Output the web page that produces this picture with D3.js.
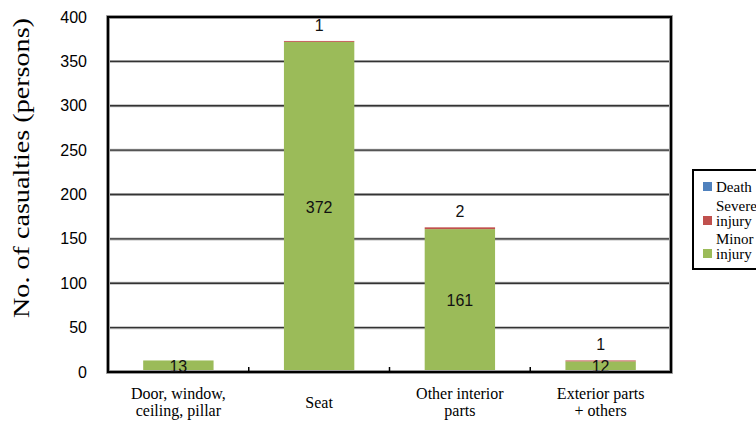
<!DOCTYPE html>
<html>
<head>
<meta charset="utf-8">
<script src="https://cdn.jsdelivr.net/npm/d3@7"></script>
<style>
  body { margin: 0; background: #fff; }
  svg { display: block; }
</style>
</head>
<body>
<svg id="chart" width="756" height="423"></svg>
<script>
// casualties by contact part, stacked by injury level
const categories = [["Door, window,", "ceiling, pillar"], ["Seat"], ["Other interior", "parts"], ["Exterior parts", "+ others"]];
const death = [0, 0, 0, 0];
const severe = [0, 1, 2, 1];
const minor = [13, 372, 161, 12];
const yTicks = [0, 50, 100, 150, 200, 250, 300, 350, 400];
const seriesNames = [["Death"], ["Severe", "injury"], ["Minor", "injury"]];
const colors = ["#4F81BD", "#C0504D", "#9BBB59"];

const SERIF = '"Liberation Serif"';
const SANS = '"Liberation Sans"';

const svg = d3.select("#chart");
const m = { left: 108, top: 17, right: 671, bottom: 372 };

const x = d3.scaleBand()
  .domain(d3.range(categories.length))
  .range([m.left, m.right])
  .paddingInner(0.5).paddingOuter(0.25);

const y = d3.scaleLinear().domain([0, 400]).range([m.bottom, m.top]);

// grid lines
const gridVals = yTicks.filter(d => d > 0 && d < 400);
svg.append("g").selectAll("line")
  .data(gridVals)
  .join("line")
  .attr("x1", m.left).attr("x2", m.right)
  .attr("y1", d => y(d)).attr("y2", d => y(d))
  .attr("stroke", "#bbb").attr("stroke-width", 3);
svg.append("g").selectAll("line")
  .data(gridVals)
  .join("line")
  .attr("x1", m.left).attr("x2", m.right)
  .attr("y1", d => y(d)).attr("y2", d => y(d))
  .attr("stroke", "#333").attr("stroke-width", 1.3);

// stacked bars: minor at bottom, severe, death on top
const rows = categories.map((c, i) => ({ i, minor: minor[i], severe: severe[i], death: death[i] }));
const stack = d3.stack().keys(["minor", "severe", "death"])(rows);
const stackColors = [colors[2], colors[1], colors[0]];

svg.append("g").selectAll("g")
  .data(stack)
  .join("g")
  .attr("fill", (d, k) => stackColors[k])
  .selectAll("rect")
  .data(d => d)
  .join("rect")
  .attr("x", d => x(d.data.i))
  .attr("width", x.bandwidth())
  .attr("y", d => y(d[1]))
  .attr("height", d => y(d[0]) - y(d[1]));

// frame
svg.append("rect")
  .attr("x", m.left).attr("y", m.top)
  .attr("width", m.right - m.left).attr("height", m.bottom - m.top)
  .attr("fill", "none").attr("stroke", "#aaa").attr("stroke-width", 4);
svg.append("rect")
  .attr("x", m.left).attr("y", m.top)
  .attr("width", m.right - m.left).attr("height", m.bottom - m.top)
  .attr("fill", "none").attr("stroke", "#000").attr("stroke-width", 2.2);

// category boundary ticks
svg.append("g").selectAll("line")
  .data(d3.range(1, categories.length))
  .join("line")
  .attr("x1", i => m.left + i * (m.right - m.left) / categories.length)
  .attr("x2", i => m.left + i * (m.right - m.left) / categories.length)
  .attr("y1", m.bottom).attr("y2", m.bottom - 5)
  .attr("stroke", "#000").attr("stroke-width", 1.5);

// y tick labels
svg.append("g").selectAll("text")
  .data(yTicks)
  .join("text")
  .attr("x", 87).attr("y", d => y(d))
  .attr("dy", "0.35em")
  .attr("text-anchor", "end")
  .style("font-family", SANS)
  .style("font-size", "16px")
  .attr("fill", "#000")
  .text(d => d);

// y axis title
svg.append("text")
  .attr("transform", "translate(29,168) rotate(-90)")
  .attr("text-anchor", "middle")
  .attr("textLength", 300)
  .attr("lengthAdjust", "spacingAndGlyphs")
  .style("font-family", SERIF)
  .style("font-size", "24px")
  .text("No. of casualties (persons)");

// category labels, one text per line
const catLines = categories.flatMap((lines, i) =>
  lines.map((t, j) => ({ t, i, j, n: lines.length })));
svg.append("g").selectAll("text")
  .data(catLines)
  .join("text")
  .attr("text-anchor", "middle")
  .style("font-family", SERIF)
  .style("font-size", "16px")
  .attr("x", d => x(d.i) + x.bandwidth() / 2)
  .attr("y", d => (d.n === 1 ? 408 : 399) + d.j * 17)
  .text(d => d.t);

// value labels: minor inside, severe above
svg.append("g").selectAll("text")
  .data(minor)
  .join("text")
  .attr("x", (d, i) => x(i) + x.bandwidth() / 2)
  .attr("y", d => y(d / 2))
  .attr("dy", "0.35em")
  .attr("text-anchor", "middle")
  .style("font-family", SANS)
  .style("font-size", "16px")
  .attr("fill", "#111")
  .text(d => d);

svg.append("g").selectAll("text")
  .data(severe.map((v, i) => ({ v, i })).filter(d => d.v > 0))
  .join("text")
  .attr("x", d => x(d.i) + x.bandwidth() / 2)
  .attr("y", d => y(minor[d.i] + severe[d.i] + death[d.i]) - 16)
  .attr("dy", "0.35em")
  .attr("text-anchor", "middle")
  .style("font-family", SANS)
  .style("font-size", "16px")
  .attr("fill", "#111")
  .text(d => d.v);

// legend
const legend = svg.append("g");
legend.append("rect")
  .attr("x", 693).attr("y", 170).attr("width", 80).attr("height", 99)
  .attr("fill", "#fff").attr("stroke", "#000").attr("stroke-width", 2);
const itemY = [182, 216, 249];
legend.selectAll("rect.sw")
  .data(seriesNames)
  .join("rect").attr("class", "sw")
  .attr("x", 703).attr("y", (d, i) => itemY[i])
  .attr("width", 9).attr("height", 9)
  .attr("fill", (d, i) => colors[i]);
const legLines = seriesNames.flatMap((lines, i) =>
  lines.map((t, j) => ({ t, i, j, n: lines.length })));
legend.selectAll("text")
  .data(legLines)
  .join("text")
  .attr("x", 716)
  .attr("y", d => (d.n === 1 ? itemY[d.i] + 10 : itemY[d.i] - 5) + d.j * 15)
  .style("font-family", SERIF)
  .style("font-size", "15px")
  .text(d => d.t);
</script>
</body>
</html>
